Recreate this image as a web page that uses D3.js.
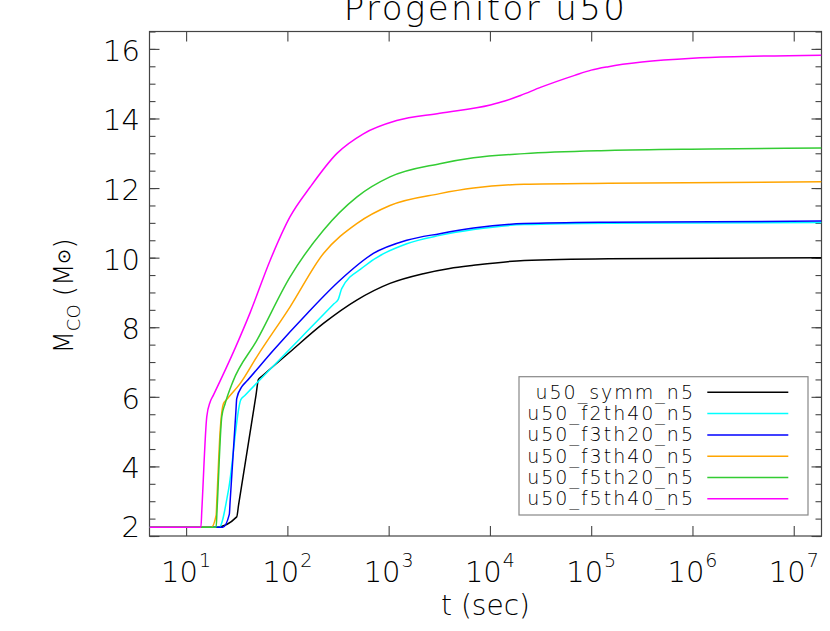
<!DOCTYPE html>
<html>
<head>
<meta charset="utf-8">
<script src="https://cdn.jsdelivr.net/npm/d3@7"></script>
<style>
body { margin: 0; background: #fff; }
svg { display: block; background: #fff; }
text { font-family: 'DejaVu Sans', sans-serif; font-weight: 200; fill: #000; }
.tick line { stroke: #444; stroke-width: 1.1; }
.domain { display: none; }
</style>
</head>
<body>
<div id="chart"></div>
<script>
// [t (sec), M_CO (Msun)]
var u50_symm_n5 = [[4.35,2.25],[19.8,2.25],[31.6,2.55],[33,2.90],[49,6.05],[51.8,6.50],[56,6.59],[106,7.29],
    [227,8.11],[484,8.78],[1030,9.26],[2200,9.54],[4000,9.69],[6900,9.78],[21800,9.92],[1.48e5,9.97],[1.88e7,10.00]];
var u50_f2th40_n5 = [[4.35,2.25],[21.2,2.25],[26.2,3.32],[34.7,5.92],[38,6.04],[290,8.68],[318,8.80],[344,9.11],
    [563,9.73],[1510,10.40],[3200,10.64],[6900,10.81],[21800,10.95],[1.48e5,10.99],[1.88e7,11.01]];
var u50_f3th20_n5 = [[4.35,2.25],[23.0,2.25],[26.7,2.62],[27.2,2.99],[31.0,5.57],[31.6,5.95],[35.5,6.29],[40,6.46],
    [72.8,7.34],[156,8.39],[331,9.35],[706,10.12],[1510,10.50],[3200,10.69],[6900,10.85],[21800,10.98],
    [1.48e5,11.02],[1.88e7,11.05]];
var u50_f3th40_n5 = [[4.35,2.25],[17.7,2.25],[19.8,2.60],[20.1,3.00],[21.7,5.04],[23.4,5.81],[24.8,5.90],[26.5,6.00],
    [34.1,6.38],[49.9,7.15],[106,8.58],[227,10.12],[484,10.98],[1030,11.50],[3200,11.84],[6900,12.00],[21800,12.11],
    [1.48e5,12.14],[1.88e7,12.18]];
var u50_f5th20_n5 = [[4.35,2.25],[19.8,2.25],[20.2,2.74],[22.5,5.43],[24.3,5.81],[28.9,6.43],[49.9,7.62],[106,9.44],
    [227,10.79],[484,11.74],[1030,12.32],[3200,12.70],[6900,12.87],[21800,12.99],[1.48e5,13.08],
    [1.47e6,13.12],[1.88e7,13.15]];
var u50_f5th40_n5 = [[4.35,2.25],[14.0,2.25],[14.3,2.75],[16.0,5.43],[17.3,5.86],[18.6,6.05],[30.5,7.40],[42.9,8.42],
    [67.5,9.92],[106,11.17],[168,12.03],[307,12.99],[563,13.56],[1200,13.94],[3200,14.15],[10100,14.39],
    [14000,14.50],[20000,14.66],[32000,14.90],[68700,15.24],[1.0e5,15.39],[1.48e5,15.49],[3.17e5,15.62],
    [1.0e6,15.73],[3.15e6,15.78],[1.88e7,15.82]];

var seriesNames = ["u50_symm_n5", "u50_f2th40_n5", "u50_f3th20_n5", "u50_f3th40_n5", "u50_f5th20_n5", "u50_f5th40_n5"];
var seriesData = [u50_symm_n5, u50_f2th40_n5, u50_f3th20_n5, u50_f3th40_n5, u50_f5th20_n5, u50_f5th40_n5];
var seriesColors = ["#000000", "#00ffff", "#0000ff", "#ffa500", "#33cc33", "#ff00ff"];

var xTickExps = [1, 2, 3, 4, 5, 6, 7];
var yTickLabels = [2, 4, 6, 8, 10, 12, 14, 16];
var xDomain = [4.35, 1.88e7], yDomain = [2, 16.5];

var svg = d3.select("#chart").append("svg").attr("width", 830).attr("height", 631),
    margin = {top: 31.5, right: 8.5, bottom: 95, left: 149.5},
    width = +svg.attr("width") - margin.left - margin.right,
    height = +svg.attr("height") - margin.top - margin.bottom;

var x = d3.scaleLog().domain(xDomain).range([0, width]),
    y = d3.scaleLinear().domain(yDomain).range([height, 0]);

var g = svg.append("g")
    .attr("transform", "translate(" + margin.left + "," + margin.top + ")");

var xTicks = xTickExps.map(function(e) { return Math.pow(10, e); });
var yMinor = d3.range(yDomain[0], yDomain[1] + 0.01, 0.5);

svg.append("defs").append("clipPath").attr("id", "plot-clip")
    .append("rect").attr("width", width).attr("height", height);

// ticks on all four sides, pointing inwards
g.append("g").attr("transform", "translate(0," + height + ")")
    .call(d3.axisBottom(x).tickValues(xTicks).tickSize(-10).tickFormat(""));
g.append("g")
    .call(d3.axisTop(x).tickValues(xTicks).tickSize(-10).tickFormat(""));
g.append("g")
    .call(d3.axisLeft(y).tickValues(yMinor).tickSize(-6).tickFormat(""));
g.append("g")
    .call(d3.axisLeft(y).tickValues(yTickLabels).tickSize(-10).tickFormat(""));
g.append("g").attr("transform", "translate(" + width + ",0)")
    .call(d3.axisRight(y).tickValues(yMinor).tickSize(-6).tickFormat(""));
g.append("g").attr("transform", "translate(" + width + ",0)")
    .call(d3.axisRight(y).tickValues(yTickLabels).tickSize(-10).tickFormat(""));

g.append("rect")
    .attr("width", width).attr("height", height)
    .attr("fill", "none").attr("stroke", "#444").attr("stroke-width", 1.2);

// tick labels
var xl = g.selectAll(".xlabel").data(xTickExps).enter().append("text")
    .attr("class", "xlabel")
    .attr("x", function(d) { return x(Math.pow(10, d)); })
    .attr("y", height + 46)
    .attr("text-anchor", "middle")
    .style("font-size", "29px");
xl.append("tspan").text("10");
xl.append("tspan").attr("dx", 1).attr("dy", -15).style("font-size", "19px")
    .text(function(d) { return d; });

g.selectAll(".ylabel").data(yTickLabels).enter().append("text")
    .attr("class", "ylabel")
    .attr("x", -9.5)
    .attr("y", function(d) { return Math.min(y(d) + 12, height + 0.7); })
    .attr("text-anchor", "end")
    .style("font-size", "29px")
    .text(function(d) { return d; });

// curves
var line = d3.line()
    .x(function(d) { return x(d[0]); })
    .y(function(d) { return y(d[1]); })
    .curve(d3.curveMonotoneX);

g.append("g").attr("clip-path", "url(#plot-clip)")
    .selectAll(".curve").data(seriesData).enter().append("path")
    .attr("class", "curve")
    .attr("d", line)
    .attr("fill", "none")
    .attr("stroke", function(d, i) { return seriesColors[i]; })
    .attr("stroke-width", 1.5);

// legend
var lg = g.append("g").attr("transform", "translate(369.5,345.2)");
lg.append("rect").attr("width", 289).attr("height", 138.3)
    .attr("fill", "#fff").attr("stroke", "#888").attr("stroke-width", 1.2);

var legend = lg.selectAll(".legend").data(seriesNames).enter().append("g")
    .attr("class", "legend")
    .attr("transform", function(d, i) { return "translate(0," + (15.6 + i * 21.3) + ")"; });

legend.append("text")
    .attr("x", 176).attr("y", 6.5)
    .attr("text-anchor", "end")
    .style("font-size", "19px")
    .style("letter-spacing", "2px")
    .text(function(d) { return d; });

legend.append("line")
    .attr("x1", 188.3).attr("x2", 269.3)
    .attr("stroke", function(d, i) { return seriesColors[i]; })
    .attr("stroke-width", 1.5);

// titles
svg.append("text")
    .attr("x", margin.left + width / 2).attr("y", 20)
    .attr("text-anchor", "middle")
    .style("font-size", "34px")
    .style("letter-spacing", "2.4px")
    .text("Progenitor u50");

svg.append("text")
    .attr("x", margin.left + width / 2).attr("y", 615)
    .attr("text-anchor", "middle")
    .style("font-size", "28px")
    .text("t (sec)");

var yt = svg.append("text")
    .attr("transform", "translate(73,296) rotate(-90)")
    .attr("text-anchor", "middle")
    .style("font-size", "26px");
yt.append("tspan").text("M");
yt.append("tspan").attr("dy", 7).style("font-size", "18px").text("CO");
yt.append("tspan").attr("dy", -7).text(" (M");
yt.append("tspan").attr("dy", -3).style("font-size", "18px").text("\u2299");
yt.append("tspan").attr("dy", 3).text(")");
</script>
</body>
</html>
